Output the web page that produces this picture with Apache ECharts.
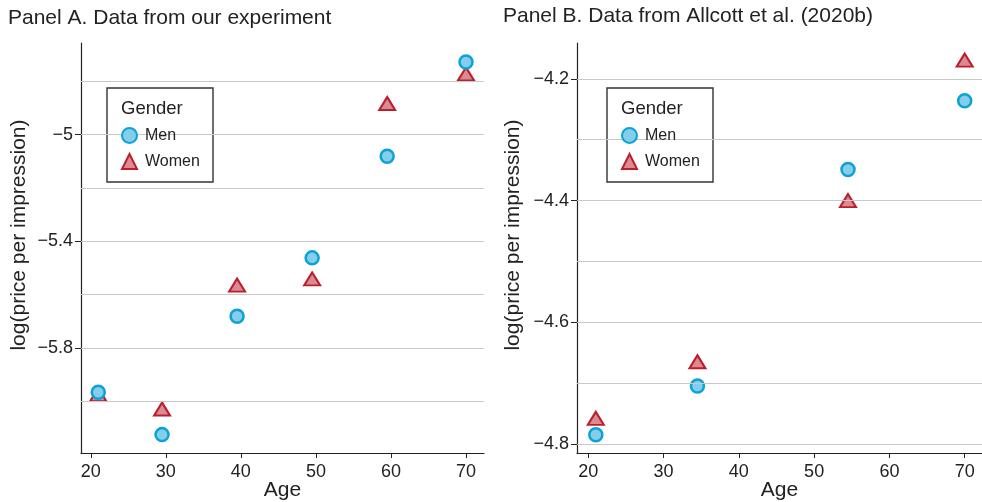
<!DOCTYPE html>
<html>
<head>
<meta charset="utf-8">
<script src="https://cdn.jsdelivr.net/npm/echarts@6/dist/echarts.min.js"></script>
<style>
  html, body { margin: 0; padding: 0; background: #fff; }
  #main { width: 982px; height: 502px; }
</style>
</head>
<body>
<div id="main"></div>
<script>
// Panel A: our experiment
var agesA = [21, 29.5, 39.5, 49.5, 59.5, 70]
var menA = [-5.966, -6.125, -5.681, -5.462, -5.081, -4.727]
var womenA = [-5.975, -6.029, -5.564, -5.541, -4.883, -4.772]
var gridValsA = [-6.0, -5.8, -5.6, -5.4, -5.2, -5.0, -4.8]
var yTicksA = [-5.8, -5.4, -5.0]

// Panel B: Allcott et al. (2020b)
var agesB = [21, 34.5, 54.5, 70]
var menB = [-4.785, -4.705, -4.349, -4.236]
var womenB = [-4.758, -4.665, -4.400, -4.169]
var gridValsB = [-4.8, -4.7, -4.6, -4.5, -4.4, -4.3, -4.2]
var yTicksB = [-4.8, -4.6, -4.4, -4.2]

var ageTicks = [20, 30, 40, 50, 60, 70]

var FONT = '"Liberation Sans", Arial, Helvetica, sans-serif'
var INK = '#222'

var chartDom = document.getElementById('main')
var myChart = echarts.init(chartDom)

function zip(xs, ys) {
  return xs.map(function (x, i) { return [x, ys[i]] })
}

function minusSign(v) {
  return String(v).replace('-', '\u2212')
}

function makeX(idx, min, max) {
  return {
    type: 'value', gridIndex: idx, min: min, max: max,
    name: 'Age', nameLocation: 'middle', nameGap: 27, nameMoveOverlap: false,
    nameTextStyle: { fontSize: 21, color: INK, fontFamily: FONT },
    axisLine: { lineStyle: { color: INK, width: 1.2 } },
    axisTick: { show: true, length: 5, customValues: ageTicks, lineStyle: { color: INK } },
    axisLabel: { customValues: ageTicks, fontSize: 18, color: INK, fontFamily: FONT, margin: 10 },
    splitLine: { show: false }
  }
}

function makeY(idx, min, max, ticks, gap) {
  return {
    type: 'value', gridIndex: idx, min: min, max: max,
    name: 'log(price per impression)', nameLocation: 'middle', nameGap: gap, nameMoveOverlap: false,
    nameTextStyle: { fontSize: 21, color: INK, fontFamily: FONT, padding: [0, 0, 0, 26] },
    axisLine: { show: true, lineStyle: { color: INK, width: 1.2 } },
    axisTick: { show: true, length: 6, customValues: ticks, lineStyle: { color: INK } },
    axisLabel: { customValues: ticks, fontSize: 18, color: INK, fontFamily: FONT, margin: 8,
      formatter: minusSign },
    splitLine: { show: false }
  }
}

function gridSeries(idx, vals) {
  return {
    type: 'scatter', xAxisIndex: idx, yAxisIndex: idx, data: [], z: 1, silent: true,
    markLine: {
      silent: true, symbol: 'none', label: { show: false },
      lineStyle: { color: '#c8c8c8', width: 1.2, type: 'solid' },
      data: vals.map(function (v) { return { yAxis: v } })
    }
  }
}

var menStyle = { color: '#86cdea', borderColor: '#0aa2d8', borderWidth: 2.5, opacity: 1 }
var womenStyle = { color: '#d98a93', borderColor: '#bb1f2c', borderWidth: 2, opacity: 1 }

function legendFor(left) {
  return {
    data: ['Men', 'Women'], orient: 'vertical', left: left, top: 127, z: 6,
    itemWidth: 15, itemHeight: 15, itemGap: 9, padding: 0,
    textStyle: { fontSize: 16, color: INK, fontFamily: FONT, padding: [0, 0, 0, 3] }
  }
}

function legendBox(x) {
  return [
    { type: 'rect', z: 2, shape: { x: x, y: 88, width: 106, height: 94 },
      style: { fill: '#fff', stroke: '#333', lineWidth: 1.4 } },
    { type: 'text', z: 6, x: x + 14, y: 99,
      style: { text: 'Gender', fontSize: 18.5, fill: INK, fontFamily: FONT } }
  ]
}

option = {
  backgroundColor: '#fff',
  animation: false,
  textStyle: { fontFamily: FONT },
  title: [
    { text: 'Panel A. Data from our experiment', left: 8, top: 8, padding: 0,
      textStyle: { fontSize: 21, fontWeight: 'normal', color: INK, fontFamily: FONT } },
    { text: 'Panel B. Data from Allcott et al. (2020b)', left: 503, top: 6, padding: 0,
      textStyle: { fontSize: 21, fontWeight: 'normal', color: INK, fontFamily: FONT } }
  ],
  grid: [
    { left: 81, top: 43, width: 403, height: 410, outerBoundsMode: 'none', containLabel: false },
    { left: 577, top: 43, width: 405, height: 410, outerBoundsMode: 'none', containLabel: false }
  ],
  xAxis: [makeX(0, 18.7, 72.4), makeX(1, 18.5, 72.3)],
  yAxis: [makeY(0, -6.194, -4.656, yTicksA, 51), makeY(1, -4.815, -4.141, yTicksB, 53)],
  legend: [legendFor(121), legendFor(621)],
  graphic: legendBox(107).concat(legendBox(607)),
  series: [
    gridSeries(0, gridValsA),
    gridSeries(1, gridValsB),
    { name: 'Women', type: 'scatter', xAxisIndex: 0, yAxisIndex: 0, z: 3,
      symbol: 'triangle', symbolSize: [16, 13], itemStyle: womenStyle, data: zip(agesA, womenA) },
    { name: 'Men', type: 'scatter', xAxisIndex: 0, yAxisIndex: 0, z: 4,
      symbol: 'circle', symbolSize: 13, itemStyle: menStyle, data: zip(agesA, menA) },
    { name: 'Women', type: 'scatter', xAxisIndex: 1, yAxisIndex: 1, z: 3,
      symbol: 'triangle', symbolSize: [16, 13], itemStyle: womenStyle, data: zip(agesB, womenB) },
    { name: 'Men', type: 'scatter', xAxisIndex: 1, yAxisIndex: 1, z: 4,
      symbol: 'circle', symbolSize: 13, itemStyle: menStyle, data: zip(agesB, menB) }
  ]
}

option && myChart.setOption(option)
</script>
</body>
</html>
